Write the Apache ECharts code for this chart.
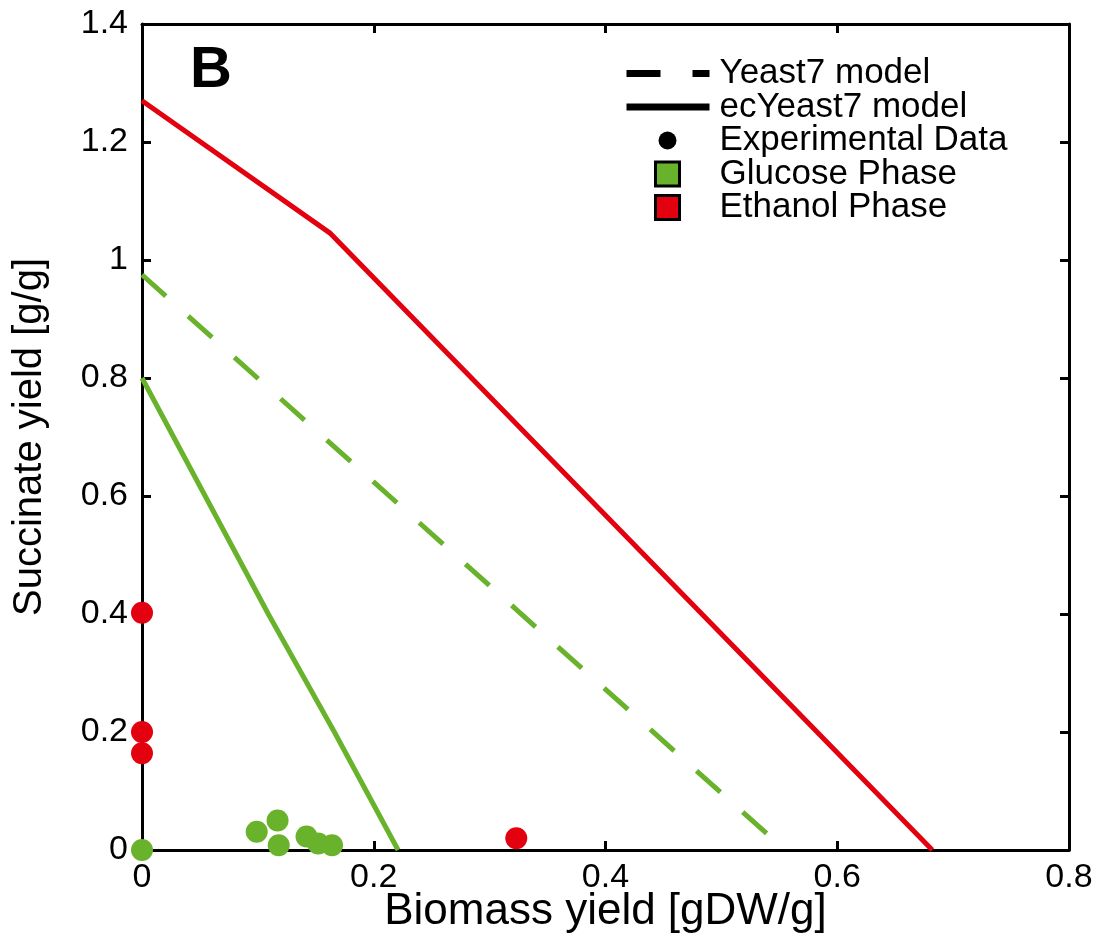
<!DOCTYPE html>
<html>
<head>
<meta charset="utf-8">
<script src="https://cdn.jsdelivr.net/npm/echarts@6/dist/echarts.min.js"></script>
<style>
html, body { margin: 0; padding: 0; background: #fff; }
#chart { width: 1104px; height: 938px; }
</style>
</head>
<body>
<div id="chart"></div>
<script>
// model lines (x = biomass yield, y = succinate yield)
const yeast7GlucoseX = [0, 0.555]
const yeast7GlucoseY = [0.975, 0]
const ecGlucoseX = [0, 0.109, 0.166, 0.221]
const ecGlucoseY = [0.80, 0.40, 0.20, 0]
const ecEthanolX = [0, 0.162, 0.682]
const ecEthanolY = [1.27, 1.046, 0]

// experimental points
const glucoseX = [0, 0.099, 0.117, 0.118, 0.142, 0.152, 0.164]
const glucoseY = [0, 0.031, 0.050, 0.008, 0.023, 0.011, 0.008]
const ethanolX = [0, 0, 0, 0.323]
const ethanolY = [0.402, 0.2, 0.164, 0.02]

const xTicks = [0, 0.8, 0.2]
const yTicks = [0, 1.4, 0.2]

const GREEN = '#69b22c'
const RED = '#e3000f'
const FONT = 'Liberation Sans, Arial, sans-serif'

const pairs = (xs, ys) => xs.map((x, i) => [x, ys[i]])

// legend icons drawn inside an 88x28 box (M0,0 M88,28 fixes the box)
const iconDash = 'path://M0,0M88,28M0,10.5h34v7h-34zM66,10.5h17v7h-17z'
const iconSolid = 'path://M0,0M88,28M0,10.5h83v7h-83z'
const iconDot = 'path://M0,0M88,28M32,14a9,9 0 1,0 18,0a9,9 0 1,0 -18,0z'
const iconBox = 'path://M0,0M88,28M29,2h24v24h-24z'

const chart = echarts.init(document.getElementById('chart'))

const frameAxis = {
    axisLine: { onZero: false, lineStyle: { color: '#000', width: 3 } },
    axisTick: { inside: true, length: 9, lineStyle: { color: '#000', width: 3 } },
    splitLine: { show: false }
}

chart.setOption({
    animation: false,
    backgroundColor: '#fff',
    title: {
        text: 'B',
        left: 190,
        top: 42,
        padding: 0,
        textStyle: { fontFamily: FONT, fontSize: 58, fontWeight: 'bold', color: '#000', lineHeight: 58 }
    },
    legend: {
        orient: 'vertical',
        left: 625,
        top: 56,
        padding: 0,
        itemWidth: 88,
        itemHeight: 28,
        itemGap: -1.5,
        selectedMode: false,
        textStyle: { fontFamily: FONT, fontSize: 35, color: '#000', lineHeight: 32 },
        data: [
            { name: 'Yeast7 model', icon: iconDash, itemStyle: { color: '#000', borderWidth: 0, opacity: 1 } },
            { name: 'ecYeast7 model', icon: iconSolid, itemStyle: { color: '#000', borderWidth: 0, opacity: 1 } },
            { name: 'Experimental Data', icon: iconDot, itemStyle: { color: '#000', borderWidth: 0, opacity: 1 } },
            { name: 'Glucose Phase', icon: iconBox, itemStyle: { color: GREEN, borderColor: '#000', borderWidth: 3, opacity: 1 } },
            { name: 'Ethanol Phase', icon: iconBox, itemStyle: { color: RED, borderColor: '#000', borderWidth: 3, opacity: 1 } }
        ]
    },
    grid: { left: 142, right: 35, top: 24, bottom: 88, outerBoundsMode: 'none' },
    xAxis: [{
        type: 'value',
        min: xTicks[0],
        max: xTicks[1],
        interval: xTicks[2],
        name: 'Biomass yield [gDW/g]',
        nameLocation: 'middle',
        nameGap: 40,
        nameMoveOverlap: false,
        nameTextStyle: { fontFamily: FONT, fontSize: 44, color: '#000' },
        axisLabel: { fontFamily: FONT, fontSize: 34, color: '#000', margin: 11 },
        ...frameAxis
    }, {
        type: 'value',
        position: 'top',
        min: xTicks[0],
        max: xTicks[1],
        interval: xTicks[2],
        axisLabel: { show: false },
        ...frameAxis
    }],
    yAxis: [{
        type: 'value',
        min: yTicks[0],
        max: yTicks[1],
        interval: yTicks[2],
        name: 'Succinate yield [g/g]',
        nameLocation: 'middle',
        nameGap: 92,
        nameMoveOverlap: false,
        nameTextStyle: { fontFamily: FONT, fontSize: 40, color: '#000' },
        axisLabel: { fontFamily: FONT, fontSize: 34, color: '#000', margin: 14 },
        ...frameAxis
    }, {
        type: 'value',
        position: 'right',
        min: yTicks[0],
        max: yTicks[1],
        interval: yTicks[2],
        axisLabel: { show: false },
        ...frameAxis
    }],
    series: [{
        name: 'Yeast7 model',
        type: 'line',
        symbol: 'none',
        data: pairs(yeast7GlucoseX, yeast7GlucoseY),
        itemStyle: { color: GREEN },
        lineStyle: { color: GREEN, width: 5, type: [32, 30] }
    }, {
        name: 'ecYeast7 model',
        type: 'line',
        symbol: 'none',
        data: pairs(ecGlucoseX, ecGlucoseY),
        itemStyle: { color: GREEN },
        lineStyle: { color: GREEN, width: 5 }
    }, {
        name: 'ecYeast7 model',
        type: 'line',
        symbol: 'none',
        data: pairs(ecEthanolX, ecEthanolY),
        itemStyle: { color: RED },
        lineStyle: { color: RED, width: 5 }
    }, {
        name: 'Experimental Data',
        type: 'scatter',
        data: [],
        itemStyle: { color: '#000', opacity: 1 }
    }, {
        name: 'Glucose Phase',
        type: 'scatter',
        symbolSize: 22,
        data: pairs(glucoseX, glucoseY),
        itemStyle: { color: GREEN, opacity: 1 }
    }, {
        name: 'Ethanol Phase',
        type: 'scatter',
        symbolSize: 22,
        data: pairs(ethanolX, ethanolY),
        itemStyle: { color: RED, opacity: 1 }
    }]
})
</script>
</body>
</html>
